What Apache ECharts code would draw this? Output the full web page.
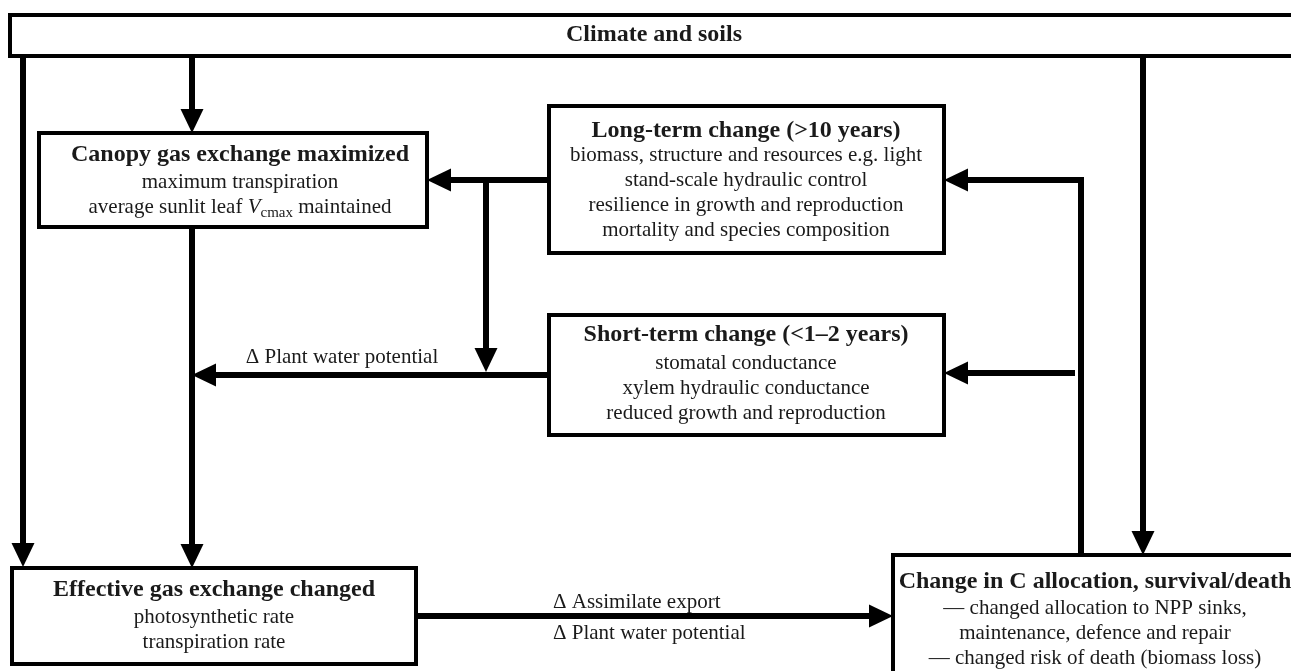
<!DOCTYPE html>
<html>
<head>
<meta charset="utf-8">
<title>Climate and soils – gas exchange and allocation</title>
<script src="https://cdn.jsdelivr.net/npm/echarts@6/dist/echarts.min.js"></script>
<style>
  html, body { margin: 0; padding: 0; background: #fff; }
  #main { width: 1291px; height: 671px; }
</style>
</head>
<body>
<div id="main"></div>
<script>
// box texts
const boxTitles = [
  'Climate and soils',
  'Canopy gas exchange maximized',
  'Long-term change (>10 years)',
  'Short-term change (<1–2 years)',
  'Effective gas exchange changed',
  'Change in C allocation, survival/death'
];
const boxBodies = [
  [],
  ['maximum transpiration', 'average sunlit leaf {v|V}{s|cmax} maintained'],
  ['biomass, structure and resources e.g. light', 'stand-scale hydraulic control',
    'resilience in growth and reproduction', 'mortality and species composition'],
  ['stomatal conductance', 'xylem hydraulic conductance', 'reduced growth and reproduction'],
  ['photosynthetic rate', 'transpiration rate'],
  ['— changed allocation to NPP sinks,', 'maintenance, defence and repair',
    '— changed risk of death (biomass loss)']
];

// diagram layout in canvas units (x: 0..1291, y: 0..671 downwards)
const boxLeft = [10, 39, 549, 549, 12, 893];
const boxTop = [15, 133, 106, 315, 568, 555];
const boxRight = [1300, 427, 944, 944, 416, 1300];
const boxBottom = [56, 227, 253, 435, 664, 690];
const titleY = [35, 155, 131, 335, 590, 582];
const bodyY = [0, 182, 155, 363, 617, 608];
const textX = [654, 240, 746, 746, 214, 1095];

// connectors, arrow head at the last point
const arrowPaths = [
  [[23, 56], [23, 567]],
  [[192, 56], [192, 133]],
  [[192, 227], [192, 568]],
  [[549, 180], [427, 180]],
  [[486, 180], [486, 372]],
  [[549, 375], [192, 375]],
  [[1081, 555], [1081, 180], [944, 180]],
  [[1075, 373], [944, 373]],
  [[1143, 56], [1143, 555]],
  [[416, 616], [893, 616]]
];

const edgeLabels = ['Δ Plant water potential', 'Δ Assimilate export', 'Δ Plant water potential'];
const edgeLabelX = [342, 553, 553];
const edgeLabelY = [357, 602, 633];
const edgeLabelAlign = ['center', 'left', 'left'];

const serif = '"Liberation Serif", "Times New Roman", serif';
const ink = '#1a1a1a';
const headLen = 24, headHalf = 11.5;

const bodyRich = {
  v: { fontFamily: serif, fontSize: 21, fontStyle: 'italic', fill: ink },
  s: { fontFamily: serif, fontSize: 15, fill: ink, padding: [12, 0, 0, 0] }
};

function renderBox(params, api) {
  const i = params.dataIndex;
  const p0 = api.coord([api.value(0), api.value(1)]);
  const p1 = api.coord([api.value(2), api.value(3)]);
  const cx = api.coord([textX[i], 0])[0];
  const children = [{
    type: 'rect',
    shape: { x: p0[0], y: p0[1], width: p1[0] - p0[0], height: p1[1] - p0[1] },
    style: { fill: '#fff', stroke: '#000', lineWidth: 4 }
  }, {
    type: 'text',
    x: cx,
    y: api.coord([0, titleY[i]])[1],
    style: {
      text: boxTitles[i], fontFamily: serif, fontSize: 24, fontWeight: 'bold',
      fill: ink, align: 'center', verticalAlign: 'middle'
    }
  }];
  boxBodies[i].forEach(function (line, k) {
    children.push({
      type: 'text',
      x: cx,
      y: api.coord([0, bodyY[i] + k * 25])[1],
      style: {
        text: line, fontFamily: serif, fontSize: 21, fill: ink,
        align: 'center', verticalAlign: 'middle', rich: bodyRich
      }
    });
  });
  return { type: 'group', children: children };
}

function renderArrow(params, api) {
  const pts = arrowPaths[params.dataIndex].map(function (p) { return api.coord(p); });
  const n = pts.length;
  const tip = pts[n - 1], prev = pts[n - 2];
  const dx = tip[0] - prev[0], dy = tip[1] - prev[1];
  const len = Math.hypot(dx, dy);
  const ux = dx / len, uy = dy / len;
  const base = [tip[0] - ux * headLen, tip[1] - uy * headLen];
  const shaft = pts.slice(0, n - 1).concat([[base[0] + ux * 2, base[1] + uy * 2]]);
  return {
    type: 'group',
    children: [{
      type: 'polyline',
      shape: { points: shaft },
      style: { stroke: '#000', lineWidth: 6, fill: 'none', lineJoin: 'miter' }
    }, {
      type: 'polygon',
      shape: {
        points: [tip,
          [base[0] - uy * headHalf, base[1] + ux * headHalf],
          [base[0] + uy * headHalf, base[1] - ux * headHalf]]
      },
      style: { fill: '#000' }
    }]
  };
}

function renderLabel(params, api) {
  const i = params.dataIndex;
  const p = api.coord([api.value(0), api.value(1)]);
  return {
    type: 'text',
    x: p[0], y: p[1],
    style: {
      text: edgeLabels[i], fontFamily: serif, fontSize: 21, fill: ink,
      align: edgeLabelAlign[i], verticalAlign: 'middle'
    }
  };
}

const chart = echarts.init(document.getElementById('main'));
chart.setOption({
  animation: false,
  backgroundColor: '#fff',
  grid: { left: 0, right: 0, top: 0, bottom: 0 },
  xAxis: { type: 'value', min: 0, max: 1291, show: false },
  yAxis: { type: 'value', min: 0, max: 671, inverse: true, show: false },
  series: [{
    type: 'custom',
    name: 'links',
    z: 1,
    renderItem: renderArrow,
    encode: { x: 0, y: 1 },
    data: arrowPaths.map(function (p) { return [p[0][0], p[0][1]]; })
  }, {
    type: 'custom',
    name: 'boxes',
    z: 2,
    renderItem: renderBox,
    encode: { x: [0, 2], y: [1, 3] },
    data: boxTitles.map(function (t, i) { return [boxLeft[i], boxTop[i], boxRight[i], boxBottom[i]]; })
  }, {
    type: 'custom',
    name: 'labels',
    z: 3,
    renderItem: renderLabel,
    encode: { x: 0, y: 1 },
    data: edgeLabels.map(function (t, i) { return [edgeLabelX[i], edgeLabelY[i]]; })
  }]
});
window.addEventListener('resize', function () { chart.resize(); });
</script>
</body>
</html>
